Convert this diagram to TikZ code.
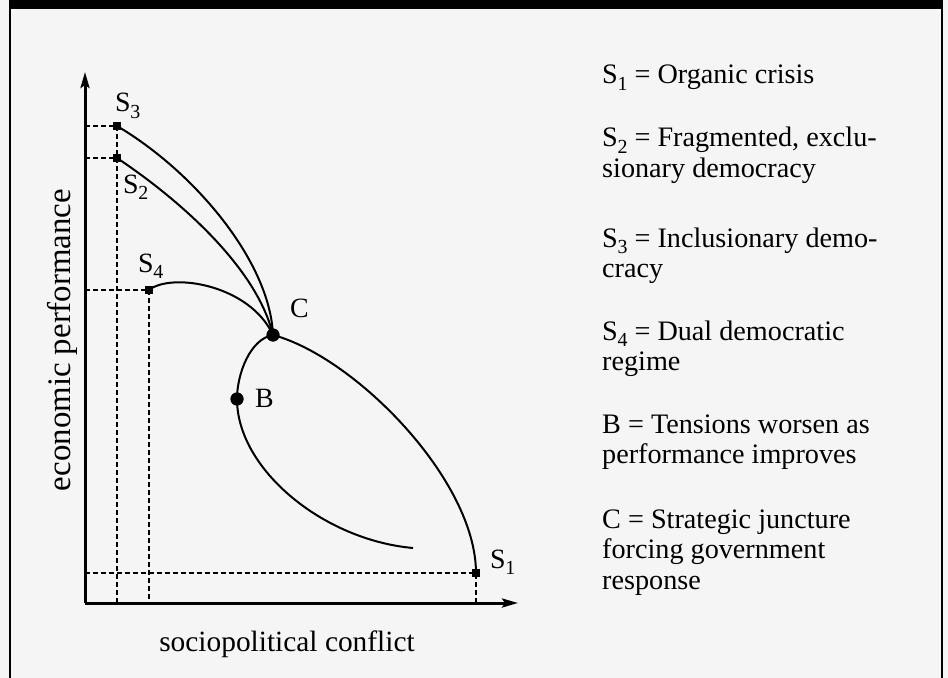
\documentclass[tikz,border=0pt]{standalone}
\usepackage{fontspec}
\setmainfont{Liberation Serif}
\usetikzlibrary{arrows.meta}
\newcommand{\Ssub}[1]{S\kern-0.3bp\raisebox{-0.22em}{\fontsize{20}{20}\selectfont #1}}
\begin{document}
\begin{tikzpicture}[x=1bp,y=-1bp,
  axis/.style={line width=3bp,-{Stealth[length=16bp,width=9bp,inset=3bp]}},
  curve/.style={line width=2bp},
  guide/.style={line width=1.4bp,dash pattern=on 5bp off 3bp},
  sq/.style={fill=black,minimum size=8.5bp,inner sep=0pt,outer sep=0pt},
  dot/.style={circle,fill=black,minimum size=13bp,inner sep=0pt},
  lbl/.style={font=\fontsize{28}{30}\selectfont,inner sep=0pt,anchor=base west},
  legend/.style={font=\fontsize{28.3}{31}\selectfont,inner sep=0pt,anchor=base west},
  axlabel/.style={font=\fontsize{29.5}{31}\selectfont,inner sep=0pt}
]
\fill[black!4] (0,0) rectangle (948,678);
\useasboundingbox (0,0) rectangle (948,678);
% frame
\fill[black] (10,0) rectangle (943,9);
\draw[line width=2bp] (10,0) -- (10,678);
\draw[line width=2bp] (942,0) -- (942,678);
% points
\coordinate (O) at (85,603);
\coordinate (ytip) at (85,72);
\coordinate (xtip) at (518,603);
\node[sq] (S1) at (476,573) {};
\node[sq] (S2) at (117,158) {};
\node[sq] (S3) at (117,126) {};
\node[sq] (S4) at (149,290) {};
\node[dot] (C) at (273,335) {};
\node[dot] (B) at (237,399) {};
\coordinate (E) at (413,548);
% guides
\draw[guide] (O |- S3) -- (S3.center) -- (S3 |- O);
\draw[guide] (O |- S2) -- (S2.center);
\draw[guide] (O |- S4) -- (S4.center) -- (S4 |- O);
\draw[guide] (O |- S1) -- (S1.center) -- (S1 |- O);
% curves
\draw[curve] (S3.center) .. controls (195,172) and (270,262) .. (C.center);
\draw[curve] (S2.center) .. controls (180,200) and (257,268) .. (C.center);
\draw[curve] (S4.center) .. controls (172,272) and (250,285) .. (C.center);
\draw[curve] (C.center) .. controls (355,357) and (476,480) .. (S1.center);
\draw[curve] (C.center) .. controls (250,339) and (237,374) .. (B.center)
  .. controls (237,469) and (323,540) .. (E);
% axes
\draw[axis] (O) -- (ytip);
\draw[axis] (O) -- (xtip);
% redraw markers on top
\node[sq] at (S1) {};
\node[sq] at (S2) {};
\node[sq] at (S3) {};
\node[sq] at (S4) {};
\node[dot] at (C) {};
\node[dot] at (B) {};
% point labels
\node[lbl] (lS1) at (490,568) {\Ssub{1}};
\node[lbl] (lS2) at (123,193) {\Ssub{2}};
\node[lbl] (lS3) at (115,112) {\Ssub{3}};
\node[lbl] (lS4) at (138,272) {\Ssub{4}};
\node[lbl] (lC) at (290,317) {C};
\node[lbl] (lB) at (255,407) {B};
% axis labels
\node[axlabel,anchor=base] (xl) at (287,651) {sociopolitical conflict};
\node[axlabel,rotate=90,font=\fontsize{33}{35}\selectfont] (yl) at (62,340) {economic performance};
% legend
\node[legend] (L1) at (602,84) {\Ssub{1} = Organic crisis};
\node[legend] (L2) at (602,147) {\parbox[t]{330bp}{\Ssub{2} = Fragmented, exclu-\\sionary democracy}};
\node[legend] (L3) at (602,247) {\parbox[t]{330bp}{\Ssub{3} = Inclusionary demo-\\cracy}};
\node[legend] (L4) at (602,340) {\parbox[t]{330bp}{\Ssub{4} = Dual democratic\\regime}};
\node[legend] (L5) at (602,433) {\parbox[t]{330bp}{B = Tensions worsen as\\performance improves}};
\node[legend] (L6) at (602,528) {\parbox[t]{330bp}{C = Strategic juncture\\forcing government\\response}};
\end{tikzpicture}
\end{document}
